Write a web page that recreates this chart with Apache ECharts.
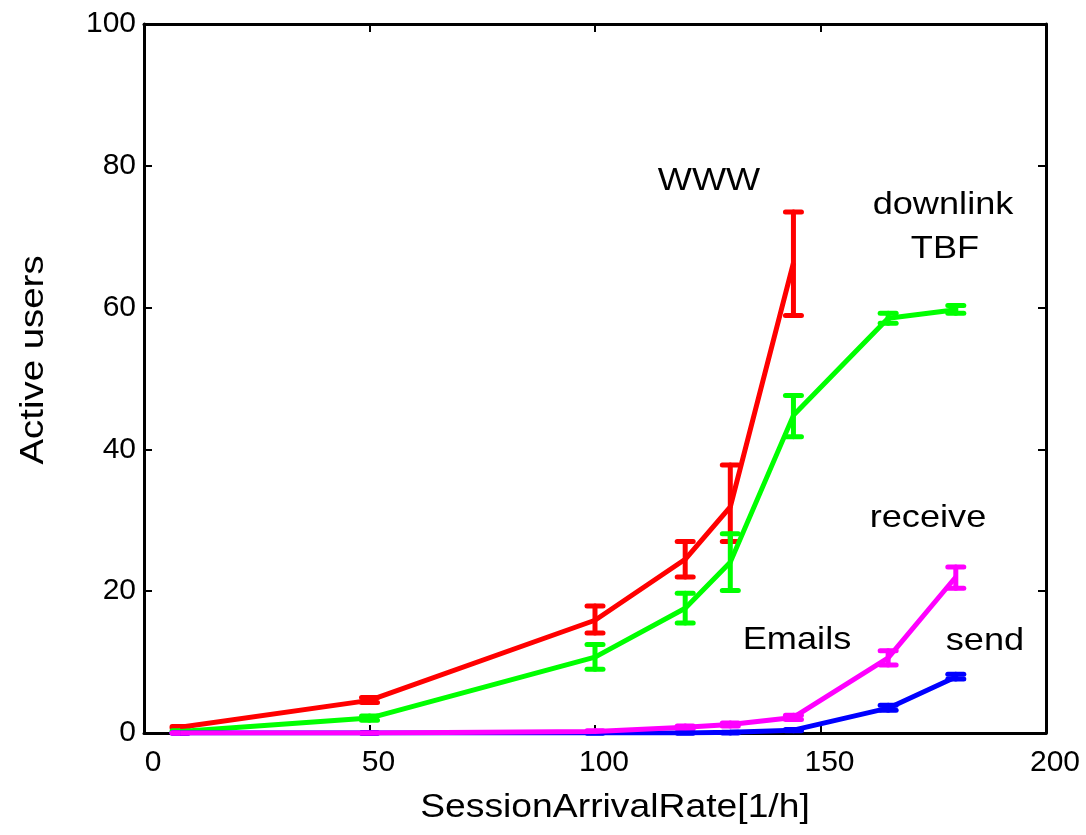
<!DOCTYPE html>
<html lang="en">
<head>
	<meta charset="UTF-8">
	<title>active users</title>
	<style>
		html, body { margin: 0; padding: 0; background: #fff; }
		#main { width: 1086px; height: 835px; }
	</style>
	<script src="https://cdn.jsdelivr.net/npm/echarts@6/dist/echarts.min.js"></script>
</head>
<body>
	<div id="main"></div>
	<script>
		// session arrival rate [1/h]
		var wwwRate = [8, 50, 100, 120, 130, 144];
		var rate = [8, 50, 100, 120, 130, 144, 165, 180];

		// WWW
		var wwwMean = [0.8, 4.6, 15.9, 24.5, 31.9, 66.3];
		var wwwLow = [0.7, 4.3, 14.1, 22.0, 27.0, 58.9];
		var wwwHigh = [0.9, 5.0, 17.9, 27.0, 37.8, 73.5];

		// downlink TBF
		var tbfMean = [0.2, 2.1, 10.7, 17.6, 24.1, 44.8, 58.5, 59.7];
		var tbfLow = [0.1, 1.8, 9.0, 15.5, 20.1, 41.8, 57.8, 59.2];
		var tbfHigh = [0.3, 2.4, 12.5, 19.7, 28.1, 47.6, 59.2, 60.3];

		// Emails send
		var sendMean = [0, 0, 0, 0, 0.1, 0.4, 3.5, 7.9];
		var sendLow = [0, 0, 0, 0, 0, 0.3, 3.2, 7.6];
		var sendHigh = [0, 0, 0, 0, 0.1, 0.5, 3.9, 8.3];

		// Emails receive
		var recvMean = [0, 0, 0.2, 0.8, 1.2, 2.2, 10.6, 22.0];
		var recvLow = [0, 0, 0.1, 0.6, 1.0, 1.9, 9.6, 20.4];
		var recvHigh = [0, 0, 0.3, 1.0, 1.4, 2.5, 11.6, 23.4];

		var xTicks = [0, 50, 100, 150, 200];
		var yTicks = [0, 20, 40, 60, 80, 100];

		var font = 'Liberation Sans, Arial, sans-serif';

		function pairs(xs, ys) {
			return xs.map(function (x, i) { return [x, ys[i]]; });
		}
		function errs(xs, lo, hi) {
			return xs.map(function (x, i) { return [x, lo[i], hi[i]]; });
		}

		// 误差棒
		function errorBar(name, color, data) {
			return {
				name: name,
				type: 'custom',
				silent: true,
				data: data,
				encode: { x: 0, y: [1, 2] },
				renderItem: function (params, api) {
					var lo = api.coord([api.value(0), api.value(1)]);
					var hi = api.coord([api.value(0), api.value(2)]);
					var w = 8;
					var style = { stroke: color, lineWidth: 5, lineCap: 'round' };
					return {
						type: 'group',
						children: [
							{ type: 'line', shape: { x1: lo[0], y1: lo[1], x2: hi[0], y2: hi[1] }, style: style },
							{ type: 'line', shape: { x1: lo[0] - w, y1: lo[1], x2: lo[0] + w, y2: lo[1] }, style: style },
							{ type: 'line', shape: { x1: hi[0] - w, y1: hi[1], x2: hi[0] + w, y2: hi[1] }, style: style }
						]
					};
				},
				z: 3
			};
		}

		function line(name, color, data) {
			return {
				name: name,
				type: 'line',
				data: data,
				symbol: 'none',
				silent: true,
				lineStyle: { color: color, width: 5 },
				z: 3
			};
		}

		// 文字标注 (原图横向略有拉伸)
		function text(str, x, y, size, rot) {
			return {
				type: 'text',
				x: x,
				y: y,
				rotation: rot || 0,
				scaleX: 1.13,
				style: {
					text: str,
					font: size + 'px ' + font,
					fill: '#000',
					align: 'center',
					verticalAlign: 'middle'
				}
			};
		}

		var chart = echarts.init(document.getElementById('main'));

		var tickStyle = { show: true, inside: true, length: 8, lineStyle: { color: '#000', width: 2 } };
		var frameLine = { show: true, onZero: false, lineStyle: { color: '#000', width: 3 } };

		var option = {
			backgroundColor: '#fff',
			animation: false,
			grid: { left: 144, right: 40, top: 24, bottom: 102 },
			xAxis: [{
				type: 'value',
				min: 0, max: 200, interval: 50,
				axisLine: frameLine,
				axisTick: tickStyle,
				splitLine: { show: false },
				axisLabel: {
					color: '#000', fontSize: 30, fontFamily: font, margin: 15,
					padding: [0, 0, 0, 18],
					formatter: function (v) { return xTicks.indexOf(v) >= 0 ? String(v) : ''; }
				}
			}, {
				type: 'value', position: 'top',
				min: 0, max: 200, interval: 50,
				axisLine: frameLine,
				axisTick: tickStyle,
				splitLine: { show: false },
				axisLabel: { show: false }
			}],
			yAxis: [{
				type: 'value',
				min: 0, max: 100, interval: 20,
				axisLine: frameLine,
				axisTick: tickStyle,
				splitLine: { show: false },
				axisLabel: {
					color: '#000', fontSize: 30, fontFamily: font, margin: 8,
					formatter: function (v) { return yTicks.indexOf(v) >= 0 ? String(v) : ''; }
				}
			}, {
				type: 'value', position: 'right',
				min: 0, max: 100, interval: 20,
				axisLine: frameLine,
				axisTick: tickStyle,
				splitLine: { show: false },
				axisLabel: { show: false }
			}],
			series: [
				line('WWW', '#ff0000', pairs(wwwRate, wwwMean)),
				errorBar('WWW err', '#ff0000', errs(wwwRate, wwwLow, wwwHigh)),
				line('downlink TBF', '#00ff00', pairs(rate, tbfMean)),
				errorBar('TBF err', '#00ff00', errs(rate, tbfLow, tbfHigh)),
				line('send', '#0000ff', pairs(rate, sendMean)),
				errorBar('send err', '#0000ff', errs(rate, sendLow, sendHigh)),
				line('receive', '#ff00ff', pairs(rate, recvMean)),
				errorBar('receive err', '#ff00ff', errs(rate, recvLow, recvHigh))
			],
			graphic: [
				text('WWW', 709, 181, 32),
				text('downlink', 943, 205, 32),
				text('TBF', 945, 249, 32),
				text('receive', 928, 518, 32),
				text('Emails', 797, 640, 32),
				text('send', 985, 641, 32),
				text('SessionArrivalRate[1/h]', 615, 808, 33),
				text('Active users', 34, 360, 34, Math.PI / 2)
			]
		};

		chart.setOption(option);
	</script>
</body>
</html>
